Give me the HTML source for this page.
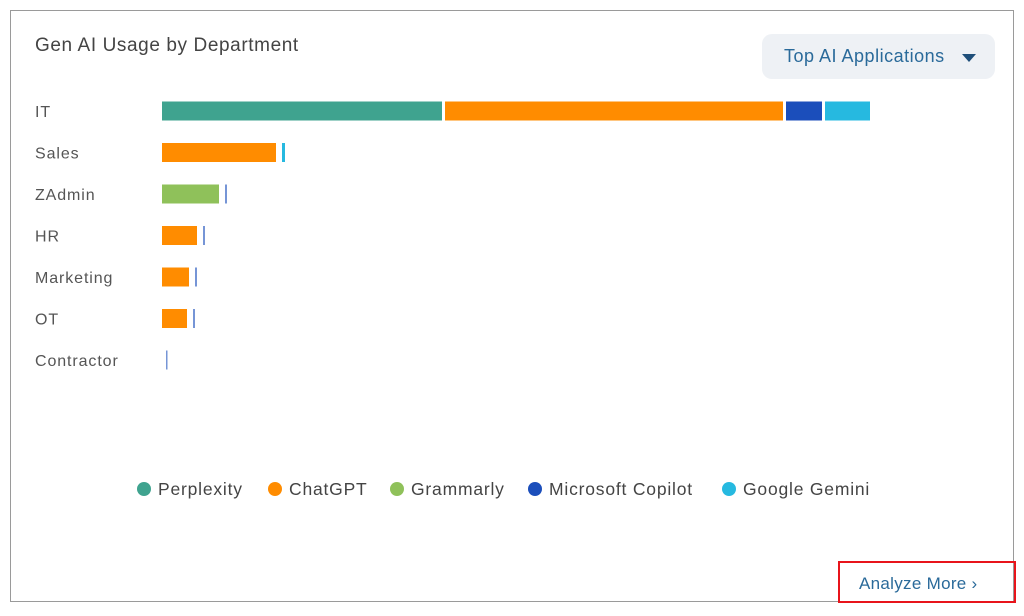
<!DOCTYPE html>
<html><head><meta charset="utf-8">
<style>
html,body{margin:0;padding:0;background:#fff;width:1024px;height:616px;overflow:hidden;font-family:"Liberation Sans",sans-serif;}
#card{position:absolute;left:10px;top:10px;width:1004px;height:592px;border:1px solid #9a9a9a;box-sizing:border-box;}
#title{position:absolute;left:35px;top:35px;font-size:19px;letter-spacing:0.6px;color:#444;}
#btn{position:absolute;left:762px;top:34px;width:233px;height:45px;background:#eef1f5;border-radius:10px;}
#btn span{position:absolute;left:22px;top:12px;font-size:18px;letter-spacing:0.5px;color:#2a6a9a;width:162px;overflow:hidden;white-space:nowrap;}
#caret{position:absolute;left:200px;top:20px;width:0;height:0;border-left:7px solid transparent;border-right:7px solid transparent;border-top:8px solid #1f4f7a;}
#analyze{position:absolute;left:838px;top:561px;width:178px;height:42px;border:2px solid #e8141b;box-sizing:border-box;font-size:17px;letter-spacing:0.3px;color:#2a6a9a;}
#analyze span{position:absolute;left:19px;top:11px;}
svg{position:absolute;left:0;top:0;}
</style></head><body>
<div id="card"></div>
<div id="title">Gen AI Usage by Department</div>
<div id="btn"><span>Top AI Applications</span><div id="caret"></div></div>
<div id="analyze"><span>Analyze More &#8250;</span></div>
<svg id="chart" width="1024" height="616"></svg>
<script>
const categories=["IT","Sales","ZAdmin","HR","Marketing","OT","Contractor"];
const seriesNames=["Perplexity","ChatGPT","Grammarly","Microsoft Copilot","Google Gemini"];
const perplexity=[280,0,0,0,0,0,0];
const chatgpt=[338,114,0,35,27,25,0];
const grammarly=[0,0,57,0,0,0,0];
const copilot=[36,0,2,2,2,2,1];
const gemini=[45,3,0,0,0,0,0];
const colors=["#3fa38f","#ff8c00","#8fc15a","#1b4ebb","#26b9e0"];
const series=[perplexity,chatgpt,grammarly,copilot,gemini];
const NS="http://www.w3.org/2000/svg";
const svg=document.getElementById('chart');
const x0=162,scale=1,gap=3,smallGap=6;
const xScale=v=>v*scale;
const yCenter=i=>111+i*41.5;
const barH=19;
categories.forEach((c,i)=>{
  const t=document.createElementNS(NS,'text');
  t.setAttribute('x',35);t.setAttribute('y',yCenter(i)+6);
  t.setAttribute('font-size','16');t.setAttribute('fill','#555');
  t.setAttribute('letter-spacing','0.9');
  t.setAttribute('font-family','Liberation Sans, sans-serif');
  t.textContent=c;
  
  
  svg.appendChild(t);
  let x=x0; let first=true;
  series.forEach((s,k)=>{
    const v=s[i]; if(!v) return;
    const small=v<5;
    if(!first) x+= small?smallGap:gap;
    else if(small) x+=4;
    const w=Math.max(1.5,xScale(v));
    const r=document.createElementNS(NS,'rect');
    r.setAttribute('x',x);r.setAttribute('y',yCenter(i)-barH/2);
    r.setAttribute('width',w);r.setAttribute('height',barH);
    r.setAttribute('fill',colors[k]);
    if(v<3) r.setAttribute('opacity','0.6');
    
    
    svg.appendChild(r);
    x+=w; first=false;
  });
});
const legX=[137,268,390,528,722];
seriesNames.forEach((n,k)=>{
  const c=document.createElementNS(NS,'circle');
  c.setAttribute('cx',legX[k]+7);c.setAttribute('cy',489);c.setAttribute('r',7);
  c.setAttribute('fill',colors[k]);
  
  
  svg.appendChild(c);
  const t=document.createElementNS(NS,'text');
  t.setAttribute('x',legX[k]+21);t.setAttribute('y',495);
  t.setAttribute('font-size','17.5');t.setAttribute('fill','#444');
  t.setAttribute('letter-spacing','0.8');
  t.setAttribute('font-family','Liberation Sans, sans-serif');
  t.textContent=n;
  
  
  svg.appendChild(t);
});
</script>
</body></html>
